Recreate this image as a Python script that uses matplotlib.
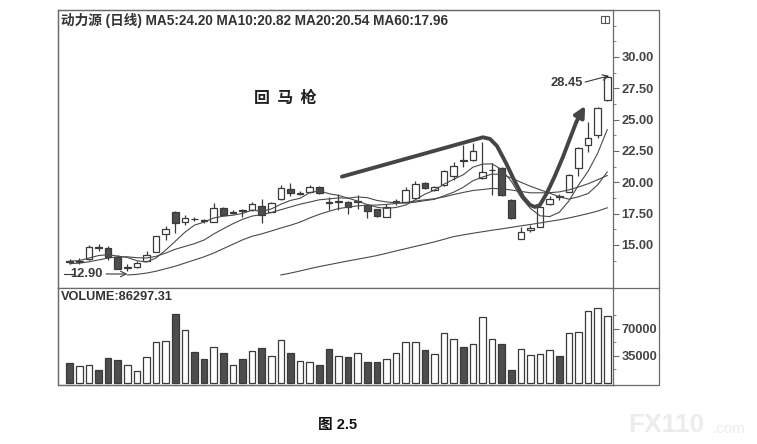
import numpy as np
import matplotlib
matplotlib.use("Agg")
import matplotlib.pyplot as plt
from matplotlib.patches import Rectangle
from matplotlib.lines import Line2D

plt.rcParams['font.family'] = ['Liberation Sans', 'Noto Sans CJK SC', 'DejaVu Sans']

# daily candles (57 sessions)
opens = [13.75, 13.60, 13.86, 14.82, 14.73, 14.06, 13.18, 13.20, 13.72, 14.41,
         15.87, 17.65, 16.80, 17.10, 17.00, 16.86, 17.93, 17.58, 17.76, 17.79,
         18.10, 17.65, 18.64, 19.49, 19.10, 19.20, 19.65, 18.42, 18.43, 18.45,
         18.43, 18.19, 17.85, 17.26, 18.43, 18.45, 18.72, 19.92, 19.39, 19.78,
         20.53, 21.76, 21.78, 20.32, 20.95, 21.10, 18.59, 15.48, 16.20, 16.46,
         18.27, 18.88, 19.25, 21.11, 22.98, 23.77, 26.57]
highs = [13.90, 13.95, 15.00, 15.05, 14.90, 14.20, 13.50, 13.70, 14.54, 15.75,
         16.50, 17.70, 17.35, 17.25, 17.10, 18.37, 18.00, 17.75, 17.85, 18.45,
         18.64, 18.45, 19.78, 19.97, 19.30, 19.80, 19.70, 18.85, 19.10, 18.50,
         19.00, 18.25, 17.90, 18.30, 18.70, 19.65, 20.10, 20.00, 19.70, 21.00,
         21.65, 23.00, 23.10, 23.24, 21.50, 21.20, 18.65, 16.46, 16.60, 18.10,
         18.90, 19.10, 20.65, 22.80, 24.84, 26.00, 28.45]
lows = [13.50, 13.50, 13.80, 14.55, 13.80, 13.05, 12.90, 13.15, 13.70, 14.40,
        15.40, 15.93, 16.60, 16.90, 16.75, 16.80, 17.35, 17.45, 17.25, 17.70,
        16.78, 17.60, 18.55, 18.90, 19.00, 19.15, 19.05, 17.80, 17.80, 17.50,
        17.90, 17.13, 17.25, 17.20, 18.20, 18.40, 18.65, 19.45, 19.30, 19.70,
        20.20, 21.25, 21.70, 20.30, 19.00, 18.90, 17.10, 15.45, 16.00, 16.40,
        18.20, 18.60, 19.20, 20.50, 22.40, 23.50, 26.50]
closes = [13.65, 13.75, 14.86, 14.78, 14.06, 13.08, 13.22, 13.58, 14.20, 15.71,
          16.25, 16.73, 17.18, 17.04, 16.88, 17.93, 17.40, 17.62, 17.70, 18.27,
          17.40, 18.37, 19.52, 19.17, 19.14, 19.65, 19.12, 18.35, 18.48, 18.06,
          18.47, 17.73, 17.30, 18.00, 18.47, 19.39, 19.86, 19.52, 19.60, 20.90,
          21.30, 21.70, 22.50, 20.85, 21.00, 18.99, 17.13, 16.06, 16.38, 18.06,
          18.67, 18.82, 20.58, 22.71, 23.56, 25.90, 28.43]
volume = [25500, 22000, 23300, 16400, 32400, 30200, 23300, 16000, 33700, 53000,
          54800, 89000, 69000, 40600, 31500, 46700, 38500, 23700, 31500, 41900,
          45000, 35400, 55300, 38500, 28000, 26800, 22900, 44000, 35400, 33300,
          39300, 27600, 27600, 30600, 39300, 53600, 53600, 42300, 37200, 65300,
          56600, 46200, 50100, 85800, 56600, 50100, 16300, 43600, 35900, 37200,
          42300, 34900, 64400, 65700, 93300, 96800, 86297.31]

nan = np.nan
ma5 = [13.70, 13.75, 13.95, 14.15, 14.22, 14.11, 14.00, 13.74, 13.63, 13.96,
       14.59, 15.29, 16.01, 16.58, 16.82, 17.15, 17.29, 17.37, 17.51, 17.78,
       17.68, 17.87, 18.25, 18.55, 18.72, 19.17, 19.32, 19.09, 18.95, 18.73,
       18.50, 18.22, 18.01, 17.91, 17.99, 18.18, 18.60, 19.05, 19.37, 19.85,
       20.24, 20.60, 21.20, 21.45, 21.47, 21.01, 20.09, 18.81, 17.91, 17.32,
       17.26, 17.60, 18.50, 19.77, 20.87, 22.31, 24.20]
ma10 = [13.50, 13.55, 13.65, 13.80, 13.95, 14.05, 14.05, 13.98, 13.95, 14.09,
        14.35, 14.65, 14.88, 15.10, 15.39, 15.87, 16.29, 16.69, 17.04, 17.30,
        17.42, 17.58, 17.81, 18.03, 18.25, 18.42, 18.60, 18.67, 18.75, 18.73,
        18.83, 18.77, 18.55, 18.43, 18.36, 18.34, 18.41, 18.53, 18.64, 18.92,
        19.21, 19.60, 20.12, 20.41, 20.66, 20.62, 20.35, 20.00, 19.68, 19.40,
        19.13, 18.85, 18.65, 18.84, 19.10, 19.79, 20.82]
ma20 = [nan, nan, nan, nan, nan, nan, 12.60, 12.65, 12.75, 12.90,
        13.10, 13.30, 13.55, 13.80, 14.05, 14.35, 14.70, 15.05, 15.40, 15.69,
        15.88, 16.11, 16.35, 16.57, 16.82, 17.15, 17.44, 17.68, 17.90, 18.01,
        18.12, 18.17, 18.18, 18.23, 18.31, 18.38, 18.50, 18.60, 18.69, 18.83,
        19.02, 19.19, 19.34, 19.42, 19.51, 19.48, 19.38, 19.27, 19.16, 19.16,
        19.17, 19.23, 19.39, 19.62, 19.88, 20.20, 20.54]
ma60 = [nan] * 22 + [12.60, 12.75, 12.92, 13.10, 13.27, 13.42, 13.57, 13.72,
                     13.86, 14.00, 14.15, 14.33, 14.52, 14.70, 14.88, 15.06,
                     15.24, 15.45, 15.66, 15.80, 15.93, 16.05, 16.17, 16.28,
                     16.40, 16.52, 16.63, 16.75, 16.88, 17.00, 17.15, 17.32,
                     17.50, 17.70, 17.96]

# hand-drawn "回马枪" stroke, in (session index, price)
stroke_x = [28.36, 43.05, 43.78, 44.51, 45.45, 46.39, 47.22, 47.95, 48.47,
            48.99, 49.72, 50.55, 51.39, 52.22, 52.80]
stroke_y = [20.45, 23.59, 23.46, 22.90, 21.54, 20.03, 18.83, 18.19, 18.03,
            18.19, 19.15, 20.51, 22.03, 23.70, 24.85]
stroke_tip = (53.70, 26.10)

price_ticks = [15.0, 17.5, 20.0, 22.5, 25.0, 27.5, 30.0]
vol_ticks = [35000, 70000]

W, H = 757, 444
fig = plt.figure(figsize=(W / 100, H / 100), dpi=100)
fig.patch.set_facecolor("white")

def fx(px):
    return px / W

def fy(py):
    return 1 - py / H

ink = "#3a3a3a"
frame = "#6a6a6a"
dark = "#4d4d4d"

axp = fig.add_axes([fx(58), fy(288), fx(613) - fx(58), fy(10) - fy(288)])
axv = fig.add_axes([fx(58), fy(385), fx(613) - fx(58), fy(288) - fy(385)])

n = len(closes)
x = np.arange(n)
o = np.array(opens); c = np.array(closes)
up = c >= o
bw = 0.68

# candles
axp.vlines(x, lows, highs, color=ink, lw=0.9, zorder=2)
axp.bar(x, np.abs(c - o), bottom=np.minimum(o, c), width=bw,
        color=np.where(up, "white", dark), edgecolor=ink, lw=0.9, zorder=3)

for ma in (ma5, ma10, ma20, ma60):
    axp.plot(x, ma, color="#4a4a4a", lw=0.8, zorder=4)

# annotation stroke
axp.plot(stroke_x, stroke_y, color="#454545", lw=2.8, solid_capstyle="round",
         solid_joinstyle="round", zorder=5)
axp.annotate("", xy=stroke_tip, xytext=(stroke_x[-1], stroke_y[-1]),
             arrowprops=dict(arrowstyle="-|>", color="#454545", lw=2.8,
                             mutation_scale=16, shrinkA=0, shrinkB=0), zorder=5)

axp.text(22.5, 26.75, "回  马  枪", fontsize=11.5, color="#222222", ha="center",
         va="center", family=['Noto Sans CJK SC', 'DejaVu Sans'], fontweight="bold")

# high / low markers
axp.text(53.5, 27.9, "28.45", fontsize=9.3, fontweight="bold", color=ink,
         ha="right", va="center")
axp.annotate("", xy=(56.2, 28.5), xytext=(53.7, 28.0),
             arrowprops=dict(arrowstyle="->", color=ink, lw=0.8, shrinkA=0, shrinkB=0))
axp.plot([-0.6, 0.3], [12.68, 12.68], color=ink, lw=0.8)
axp.text(0.05, 12.68, "12.90", fontsize=9.3, fontweight="bold", color=ink,
         ha="left", va="center")
axp.annotate("", xy=(6.0, 12.68), xytext=(3.8, 12.68),
             arrowprops=dict(arrowstyle="->", color=ink, lw=0.8, shrinkA=0, shrinkB=0))

axp.set_xlim(-1.22, 56.6)
axp.set_ylim(11.56, 33.75)
axp.set_yticks(price_ticks)
axp.set_yticklabels([f"{t:.2f}" for t in price_ticks])
axp.set_yticks(np.arange(13.75, 32.6, 1.25), minor=True)

# volume
axv.bar(x, volume, width=bw, color=np.where(up, "white", dark),
        edgecolor=ink, lw=0.9)
axv.set_xlim(-1.22, 56.6)
axv.set_ylim(-2600, 123000)
axv.set_yticks(vol_ticks)
axv.set_yticks([17500, 52500, 87500], minor=True)

for ax in (axp, axv):
    ax.yaxis.tick_right()
    ax.set_xticks([])
    ax.tick_params(axis="y", which="major", direction="out", length=4, width=0.8,
                   color=frame, labelsize=9.3, labelcolor="#444444", pad=2)
    ax.tick_params(axis="y", which="minor", direction="out", length=2, width=0.6,
                   color=frame)
    for lab in ax.get_yticklabels():
        lab.set_fontweight("bold")
    for s in ax.spines.values():
        s.set_color(frame)
        s.set_linewidth(0.9)

# outer frame and right column separator
fig.add_artist(Rectangle((fx(58), fy(385)), fx(659) - fx(58), fy(10) - fy(385),
                         transform=fig.transFigure, fill=False, ec=frame, lw=0.9))
fig.add_artist(Line2D([fx(613), fx(659)], [fy(288), fy(288)], transform=fig.transFigure,
                      color=frame, lw=0.9))
fig.add_artist(Rectangle((fx(601), fy(23)), fx(8), fy(0) - fy(7), transform=fig.transFigure,
                         fill=False, ec="#555555", lw=0.8))
fig.add_artist(Line2D([fx(605), fx(605)], [fy(23), fy(16)], transform=fig.transFigure,
                      color="#555555", lw=0.8))

fig.text(fx(61), fy(20), "动力源 (日线) MA5:24.20 MA10:20.82 MA20:20.54 MA60:17.96",
         fontsize=9.8, fontweight="bold", color="#333333", ha="left", va="center")
fig.text(fx(61), fy(297), "VOLUME:86297.31", fontsize=9.2, fontweight="bold",
         color="#333333", ha="left", va="center")
fig.text(fx(318), fy(425), "图 2.5", fontsize=10.5, fontweight="bold", color="#111111",
         ha="left", va="center")
fig.text(fx(628), fy(425), "FX110", fontsize=19, fontweight="bold", color="#ececec",
         ha="left", va="center")
fig.text(fx(713), fy(429), ".com", fontsize=11, color="#ececec", ha="left", va="center")

fig.savefig("out.png", dpi=100)
